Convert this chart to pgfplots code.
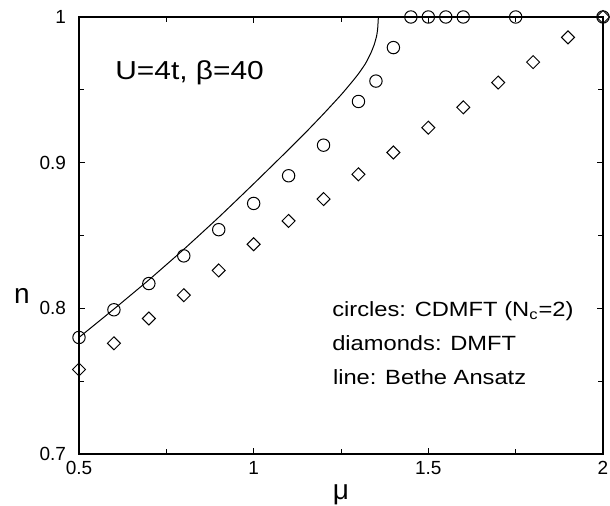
\documentclass[border=0pt]{standalone}
\usepackage{fontspec}
\setmainfont{Liberation Sans}
\newfontfamily\wide[FakeStretch=1.15]{Liberation Sans}
\usepackage{pgfplots}
\pgfplotsset{compat=1.18}

\begin{document}
\begin{tikzpicture}
\begin{axis}[name=ax, scale only axis, width=262pt, height=218.5pt,
             xmin=0.5, xmax=2, ymin=0.7, ymax=1, clip=false,
             xtick={0.5,1,1.5,2}, ytick={0.7,0.8,0.9,1},
             minor x tick num=1, minor y tick num=1,
             major tick length=3pt, minor tick length=2.5pt,
             tick align=inside, axis line style={line width=0.75pt},
             every tick/.style={black, line width=0.5pt},
             /pgf/number format/assume math mode=true,
             tick label style={font=\fontsize{9.5}{11}\selectfont},
             yticklabel style={xshift=-3pt},
             xlabel={μ}, ylabel={n},
             xlabel style={font=\fontsize{14}{16}\selectfont, at={(rel axis cs:0.5,0)}, anchor=center, yshift=-20.5pt},
             ylabel style={font=\fontsize{14}{16}\selectfont, at={(rel axis cs:0,0.362)}, anchor=center, rotate=-90, xshift=-28.5pt}]
% Bethe Ansatz
\addplot[black, line width=0.5pt, smooth, tension=0.3, mark=none] coordinates {
 (0.5,0.780) (0.6,0.7995) (0.7,0.8195) (0.8,0.8405) (0.9,0.8625) (1.0,0.8855)
 (1.1,0.909) (1.15,0.921) (1.2,0.9335) (1.25,0.9465) (1.28,0.955) (1.30,0.961)
 (1.32,0.968) (1.335,0.975) (1.345,0.981) (1.352,0.987) (1.355,0.992)
 (1.357,1.000)};
% CDMFT Nc=2
\addplot[only marks, mark=o, mark size=3.1pt, mark options={line width=0.5pt}] coordinates {
 (0.5,0.780) (0.6,0.799) (0.7,0.817) (0.8,0.836) (0.9,0.854) (1.0,0.872)
 (1.1,0.891) (1.2,0.912) (1.3,0.942) (1.35,0.956) (1.4,0.979) (1.45,1.0)
 (1.5,1.0) (1.55,1.0) (1.6,1.0) (1.75,1.0) (2.0,1.0)};
% DMFT
\addplot[only marks, mark=square, mark size=2.3pt, mark options={rotate=45, line width=0.5pt}] coordinates {
 (0.5,0.758) (0.6,0.776) (0.7,0.793) (0.8,0.809) (0.9,0.826) (1.0,0.844)
 (1.1,0.860) (1.2,0.875) (1.3,0.892) (1.4,0.907) (1.5,0.924) (1.6,0.938)
 (1.7,0.955) (1.8,0.969) (1.9,0.986) (2.0,1.0)};
\node[anchor=west, font=\wide\fontsize{13}{15}\selectfont, inner sep=0pt] at (axis cs:0.603,0.962) {U=4t, β=40};
\node[anchor=west, font=\wide\fontsize{10.3}{12}\selectfont, inner sep=0pt] at (axis cs:1.224,0.798) {circles: CDMFT (N\textsubscript{c}=2)};
\node[anchor=west, font=\wide\fontsize{10.3}{12}\selectfont, inner sep=0pt] at (axis cs:1.224,0.776) {diamonds: DMFT};
\node[anchor=west, font=\wide\fontsize{10.3}{12}\selectfont, inner sep=0pt] at (axis cs:1.226,0.753) {line: Bethe Ansatz};
\end{axis}
\pgfresetboundingbox
\path ([shift={(-39.5pt,-26pt)}]ax.south west) rectangle ([shift={(3.5pt,8.5pt)}]ax.north east);
\end{tikzpicture}
\end{document}
